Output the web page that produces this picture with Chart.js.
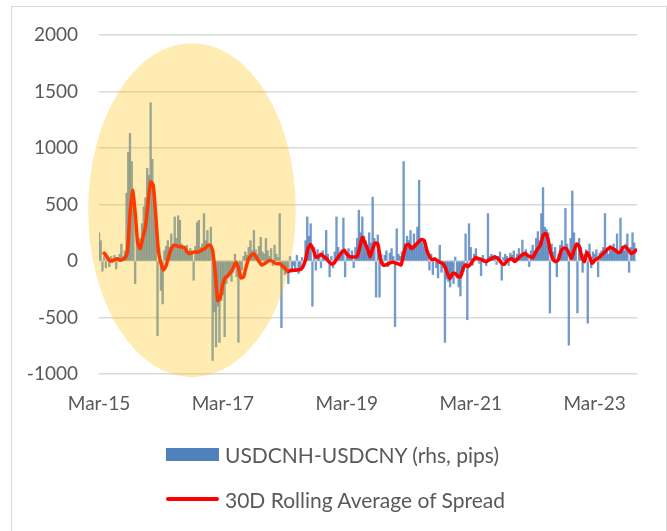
<!DOCTYPE html>
<html>
<head>
<meta charset="utf-8">
<script src="https://cdn.jsdelivr.net/npm/chart.js@4.4.1/dist/chart.umd.min.js"></script>
<style>
  html, body { margin: 0; padding: 0; background: #fff; }
  #wrap { position: relative; width: 667px; height: 531px; overflow: hidden; }
  #frame { position: absolute; left: 11px; top: 6px; width: 654px; height: 540px; border: 1px solid #D9D9D9; }
  #chart { position: absolute; left: 0; top: 0; }
  #legend { position: absolute; left: 166px; top: 441px; font-family: Lato, sans-serif; font-size: 21px; color: #595959; }
  .item { display: flex; align-items: center; height: 26px; margin-bottom: 19px; white-space: nowrap; }
  .swatch { width: 53px; margin-right: 6px; }
</style>
</head>
<body>
<div id="wrap">
  <div id="frame"></div>
  <canvas id="chart" width="667" height="531"></canvas>
  <div id="legend"></div>
</div>
<script>
// x axis is in months since Mar-15
const tickMonths = [0, 24, 48, 72, 96];
const tickLabels = ["Mar-15", "Mar-17", "Mar-19", "Mar-21", "Mar-23"];

// USDCNH-USDCNY spread (pips), read roughly 3 per month starting Mar-15
const spreadStep = 1 / 3;
const spreadValues = [
  250, 180, -90, 40, -60, 30, -50, 40, 20, 50, -70, 30,
  60, 150, 40, 90, 600, 960, 1130, 880, 450, -200, 250, 160,
  200, 330, 480, 560, 820, 760, 1400, 900, 620, 380, -660, 120,
  -260, -380, 90, 130, 180, 120, 240, 150, 390, 200, 400, 360,
  150, 120, 90, 140, 70, 110, 60, -170, 130, 340, 360, 120,
  150, 420, 180, 270, 130, 300, -880, -450, -760, -400, -720, -350,
  -300, -670, -200, -150, -120, -180, -100, 60, -140, -720, -120, -80,
  40, 80, 50, 120, 180, 90, 270, 100, 60, 130, 210, 80,
  60, 200, 90, 40, 110, -40, 140, 60, 30, 420, -590, -80,
  -120, -60, -200, 40, -100, -40, -80, 50, -110, -60, 30, -50,
  180, 390, 220, 330, -400, 120, -80, 100, 60, -60, 90, 50,
  270, 60, -140, 40, -60, 80, 390, 120, 60, 100, 380, -140,
  70, 110, 50, 90, -60, 120, 200, 450, 250, 390, 220, 180,
  120, 250, 160, 565, 200, -320, 230, -320, 60, -40, 50, 90,
  -50, 70, 110, 40, -580, 285, 60, 40, 80, 880, 150, 220,
  180, 270, 140, 240, 160, 300, 715, 200, 170, 130, 110, 40,
  -80, 60, -120, 30, -60, -150, 140, -100, -60, -720, -160, -180,
  -230, -120, -200, 35, -150, -230, -310, -120, -90, 240, -520, 330,
  120, -40, 60, 110, 30, -20, -130, 50, 20, -40, 420, 40,
  60, 20, 50, -30, 40, 80, -170, 30, 60, 40, -40, 70,
  50, 90, 30, 60, 110, 40, 185, 70, 100, 60, -50, 90,
  140, 90, 200, 260, 180, 420, 650, 300, 280, 250, -460, 150,
  80, 120, -140, 60, 140, 180, 120, 465, 150, -745, 200, 620,
  250, 150, -460, 200, 120, -100, 60, 100, -550, 150, -60, 80,
  60, 100, -140, 70, 90, 120, 420, 100, 60, 140, 90, 150,
  110, 240, 80, 380, 130, 90, 150, 240, -100, 120, 250, 160
];

// 30D rolling average, read every half month starting Apr-15
const avgStart = 1;
const avgStep = 0.5;
const avgValues = [
  70, 40, 5, 0, 10, 20, 8, 12, 25, 80,
  420, 625, 430, 160, 110, 210, 300, 520, 700, 670,
  400, 90, -20, -80, -40, 40, 110, 140, 135, 128,
  125, 120, 85, 65, 75, 80, 78, 85, 100, 110,
  135, 140, 95, -100, -350, -320, -200, -145, -128, -100,
  -60, -10, -60, -150, -140, -50, 20, 50, 65, 30,
  -5, -35, -25, -10, 5, 0, -15, -25, -20, -45,
  -60, -95, -85, -80, -82, -78, -75, -50, 10, 115,
  145, 100, 35, 40, 60, 40, 25, -5, -25, -20,
  15, 45, 75, 95, 60, 40, 35, 35, 40, 120,
  210, 160, 110, 35, 110, 160, 150, 20, -35, -35,
  -25, -15, -10, -20, -25, -35, 60, 140, 145, 110,
  125, 150, 175, 190, 180, 95, 40, 12, 18, 5,
  -10, -20, -50, -110, -155, -110, -110, -135, -140, -70,
  -35, -50, -25, 10, 30, 20, 15, 0, -5, 10,
  20, 35, 30, 10, -20, -30, 0, 15, 20, -5,
  15, 38, 55, 68, 50, 38, 30, 70, 110, 140,
  225, 244, 185, 70, 10, -5, 15, 90, 115, 110,
  70, 25, 95, 150, 130, 40, -6, 75, 40, -20,
  5, 20, 38, 60, 82, 105, 120, 110, 97, 75,
  80, 120, 126, 100, 68, 75, 97
];

// highlighted period (2015-2017), in axis units
const highlight = { month: 18, value: 450, halfMonths: 20.1, halfValue: 1478 };

const FONT = "Lato, 'Open Sans', sans-serif";
const GREY_TEXT = "#595959";
const BLUE = "#4F81BD";
const RED = "#FF0000";

const highlightPlugin = {
  id: "highlight",
  afterDatasetsDraw(chart) {
    const { ctx, scales: { x, y } } = chart;
    const cx = x.getPixelForValue(highlight.month);
    const cy = y.getPixelForValue(highlight.value);
    const rx = x.getPixelForValue(highlight.month + highlight.halfMonths) - cx;
    const ry = cy - y.getPixelForValue(highlight.value + highlight.halfValue);
    ctx.save();
    ctx.fillStyle = "rgba(255, 192, 0, 0.3)";
    ctx.beginPath();
    ctx.ellipse(cx, cy, rx, ry, 0, 0, Math.PI * 2);
    ctx.fill();
    ctx.restore();
  }
};

const chart = new Chart(document.getElementById("chart"), {
  data: {
    datasets: [
      {
        type: "bar",
        label: "USDCNH-USDCNY (rhs, pips)",
        data: spreadValues.map((v, i) => ({ x: i * spreadStep, y: v })),
        backgroundColor: "rgba(79, 129, 189, 0.8)",
        barThickness: 1.7,
        order: 1
      },
      {
        type: "line",
        label: "30D Rolling Average of Spread",
        data: avgValues.map((v, i) => ({ x: avgStart + i * avgStep, y: v })),
        borderColor: RED,
        backgroundColor: RED,
        borderWidth: 3.5,
        pointRadius: 0,
        tension: 0.2,
        borderJoinStyle: "round",
        borderCapStyle: "round",
        order: 0
      }
    ]
  },
  options: {
    responsive: false,
    animation: false,
    layout: { padding: { left: 0, right: 30, top: 35, bottom: 117 } },
    plugins: { legend: { display: false }, tooltip: { enabled: false } },
    scales: {
      x: {
        type: "linear",
        min: 0,
        max: 104.2,
        offset: false,
        grid: { display: false },
        border: { display: false },
        afterBuildTicks: (s) => { s.ticks = tickMonths.map(value => ({ value })); },
        afterFit: (s) => { s.height = 40; },
        ticks: {
          callback: (v, i) => tickLabels[i],
          font: { family: FONT, size: 19 },
          color: GREY_TEXT,
          padding: 10,
          maxRotation: 0,
          autoSkip: false
        }
      },
      y: {
        min: -1000,
        max: 2000,
        grid: { color: "#D9D9D9", lineWidth: 1.5, drawTicks: false },
        border: { display: false },
        afterFit: (s) => { s.width = 99; },
        ticks: {
          stepSize: 500,
          callback: (v) => String(v),
          font: { family: FONT, size: 19 },
          color: GREY_TEXT,
          padding: 21
        }
      }
    }
  },
  plugins: [highlightPlugin]
});

// legend stacked under the plot, like the original
const legend = document.getElementById("legend");
chart.data.datasets.forEach(ds => {
  const item = document.createElement("div");
  item.className = "item";
  const sw = document.createElement("div");
  sw.className = "swatch";
  if (ds.type === "bar") {
    sw.style.height = "13px";
    sw.style.background = BLUE;
  } else {
    sw.style.height = "4px";
    sw.style.borderRadius = "2px";
    sw.style.background = ds.borderColor;
  }
  const txt = document.createElement("span");
  txt.textContent = ds.label;
  item.appendChild(sw);
  item.appendChild(txt);
  legend.appendChild(item);
});
</script>
</body>
</html>
